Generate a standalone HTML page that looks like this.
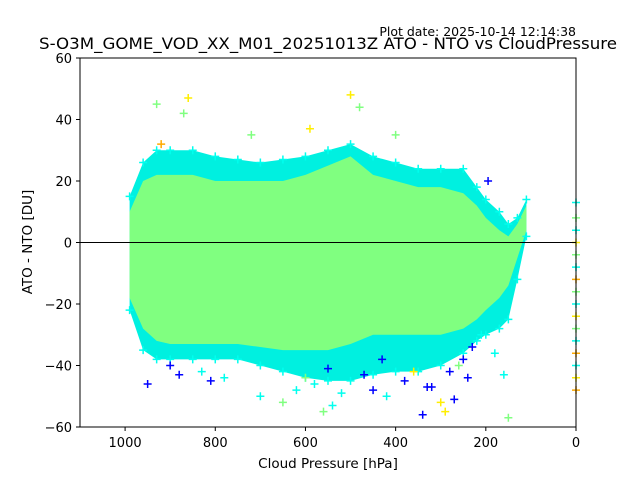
<!DOCTYPE html>
<html><head><meta charset="utf-8"><style>
body{margin:0;background:#fff;}
svg{display:block;font-family:"DejaVu Sans","Liberation Sans",sans-serif;}
</style></head><body>
<svg id="chart" width="640" height="480">
<text x="576" y="36" text-anchor="end" font-size="12.5">Plot date: 2025-10-14 12:14:38</text>
<text x="39" y="49" font-size="16" textLength="578" lengthAdjust="spacingAndGlyphs">S-O3M_GOME_VOD_XX_M01_20251013Z ATO - NTO vs CloudPressure</text>
<g id="marks"></g>
<rect x="80" y="58" width="496" height="369" fill="none" stroke="#000" stroke-width="1"/>
<g id="axes"></g>
<text x="328" y="468" text-anchor="middle" font-size="13.5">Cloud Pressure [hPa]</text>
<text transform="translate(32,242) rotate(-90)" text-anchor="middle" font-size="13.5">ATO - NTO [DU]</text>
</svg>
<script>
const pressures=[990,960,930,900,850,800,750,700,650,600,550,500,450,400,350,300,250,220,200,170,150,130,110];
const upperCyan=[15,26,30,30,30,28,27,26,27,28,30,32,28,26,24,24,24,18,14,10,6,8,14];
const lowerCyan=[-22,-35,-38,-38,-38,-38,-38,-40,-42,-44,-45,-45,-43,-42,-42,-40,-36,-32,-30,-28,-25,-12,2];
const upperGreen=[10,20,22,22,22,20,20,20,20,22,25,28,22,20,18,18,16,12,8,4,2,6,12];
const lowerGreen=[-18,-28,-32,-33,-33,-33,-33,-34,-35,-35,-35,-33,-30,-30,-30,-30,-28,-25,-22,-18,-14,-5,4];
const outP=[950,930,880,860,830,810,780,720,700,650,620,590,560,540,500,480,450,420,400,380,340,320,300,280,270,250,230,210,195,180,160,150,920,900,870,600,580,550,520,470,430,360,330,290,260,240];
const outV=[-46,45,-43,47,-42,-45,-44,35,-50,-52,-48,37,-55,-53,48,44,-48,-50,35,-45,-56,-47,-52,-42,-51,-38,-34,-30,20,-36,-43,-57,32,-40,42,-44,-46,-41,-49,-43,-38,-42,-47,-55,-40,-44];
const outC=["#0000ff","#80ff80","#0000ff","#ffee00","#00ffee","#0000ff","#00ffee","#80ff80","#00ffee","#80ff80","#00ffee","#ffee00","#80ff80","#00ffee","#ffee00","#80ff80","#0000ff","#00ffee","#80ff80","#0000ff","#0000ff","#0000ff","#ffee00","#0000ff","#0000ff","#0000ff","#0000ff","#00ffee","#0000ff","#00ffee","#00ffee","#80ff80","#ffaa00","#0000ff","#80ff80","#80ff80","#00ffee","#0000ff","#00ffee","#0000ff","#0000ff","#ffee00","#0000ff","#ffee00","#80ff80","#0000ff"];
const colVals=[13,8,4,0,-4,-8,-12,-16,-20,-24,-28,-32,-36,-40,-44,-48];
const colColors=["#00ffee","#80ff80","#00ffee","#ffee00","#80ff80","#00ffee","#ffaa00","#80ff80","#00ffee","#ffee00","#80ff80","#00ffee","#ffaa00","#00ffee","#ffee00","#ffaa00"];
const xTicks=[1000,800,600,400,200,0];
const yTicks=[60,40,20,0,-20,-40,-60];

const NS="http://www.w3.org/2000/svg";
const X=p=>80+(1100-p)/1100*496;
const Y=v=>242.5-v/60*184.5;
const marks=document.getElementById('marks');
const axes=document.getElementById('axes');
function mk(tag,attrs,parent){const e=document.createElementNS(NS,tag);for(const k in attrs)e.setAttribute(k,attrs[k]);parent.appendChild(e);return e;}
function band(up,lo,fill,name){
  let pts=pressures.map((p,i)=>X(p)+','+Y(up[i]));
  for(let i=pressures.length-1;i>=0;i--)pts.push(X(pressures[i])+','+Y(lo[i]));
  const e=mk('polygon',{points:pts.join(' '),fill:fill},marks);
  
  
}
band(upperCyan,lowerCyan,'#00f0e0','cyan-point-band');
band(upperGreen,lowerGreen,'#80ff80','green-point-band');
function plus(x,y,c,name){
  const e=mk('path',{d:`M${x-4},${y}H${x+4}M${x},${y-4}V${y+4}`,stroke:c,'stroke-width':1.5},marks);
  
  
}
pressures.forEach((p,i)=>{plus(X(p),Y(upperCyan[i]),'#00ffee','edge-point');plus(X(p),Y(lowerCyan[i]),'#00ffee','edge-point');});
outP.forEach((p,i)=>plus(X(outP[i]),Y(outV[i]),outC[i],'outlier-point'));
colVals.forEach((v,i)=>plus(X(0),Y(v),colColors[i],'zero-pressure-point'));
const z=mk('line',{x1:80,x2:576,y1:Y(0),y2:Y(0),stroke:'#000','stroke-width':1},marks);


xTicks.forEach(t=>{
  const l=mk('line',{x1:X(t),x2:X(t),y1:427,y2:431,stroke:'#000'},axes);
  
  
  const tx=mk('text',{x:X(t),y:447,'text-anchor':'middle','font-size':13},axes);
  tx.textContent=t;
  
  
});
yTicks.forEach(t=>{
  const l=mk('line',{x1:76,x2:80,y1:Y(t),y2:Y(t),stroke:'#000'},axes);
  
  
  const tx=mk('text',{x:72,y:Y(t)+5,'text-anchor':'end','font-size':13},axes);
  tx.textContent=t<0?'\u2212'+(-t):t;
  
  
});
</script>
</body></html>
